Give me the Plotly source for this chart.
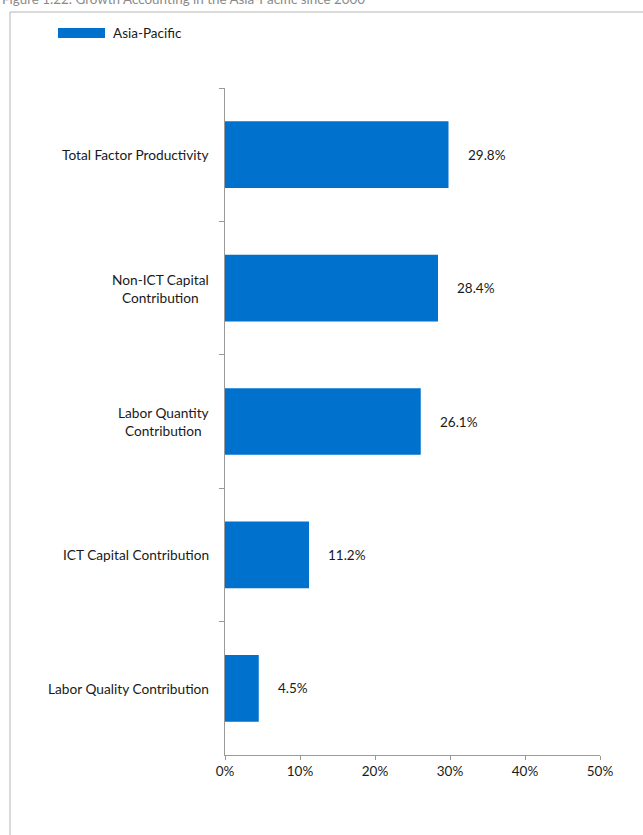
import plotly.graph_objects as go

# Growth accounting shares, Asia-Pacific
categories = [
    "Total Factor Productivity",
    "Non-ICT Capital<br>Contribution",
    "Labor Quantity<br>Contribution",
    "ICT Capital Contribution",
    "Labor Quality Contribution",
]
values = [29.8, 28.4, 26.1, 11.2, 4.5]
x_ticks = [0, 10, 20, 30, 40, 50]
series_name = "Asia-Pacific"
title_text = "Figure 1.22: Growth Accounting in the Asia-Pacific since 2000"

BLUE = "#0072CE"
AXIS = "#9a9a9a"
FONT = "Lato"
TXT = "#1a1a1a"

W, H = 643, 835
L, R, T, B = 225, 43, 88, 80
pw, ph = W - L - R, H - T - B


def px_x(p):
    return (p - L) / pw


def px_y(p):
    return (H - B - p) / ph


fig = go.Figure()
fig.add_trace(go.Bar(
    x=values, y=categories, orientation="h",
    marker=dict(color=BLUE, line=dict(width=0)),
    name=series_name, showlegend=False,
))

annotations = []
# category labels (centered multi-line)
for c in categories:
    annotations.append(dict(
        x=px_x(211), xref="paper", y=c, yref="y",
        text=c, showarrow=False, xanchor="right", yanchor="middle",
        align="center", font=dict(family=FONT, size=13.7, color=TXT),
    ))
# value labels
for c, v in zip(categories, values):
    annotations.append(dict(
        x=v, xref="x", y=c, yref="y", text=f"{v:.1f}%",
        showarrow=False, xanchor="left", yanchor="middle", xshift=17,
        font=dict(family=FONT, size=13.5, color=TXT),
    ))
# legend text
annotations.append(dict(
    x=px_x(111), xref="paper", y=px_y(33), yref="paper", text=series_name,
    showarrow=False, xanchor="left", yanchor="middle",
    font=dict(family=FONT, size=13.5, color=TXT),
))
# figure caption
annotations.append(dict(
    x=px_x(0), xref="paper", y=px_y(-1), yref="paper", text=title_text,
    showarrow=False, xanchor="left", yanchor="middle",
    font=dict(family=FONT, size=13.4, color="#8a8a8a"),
))

shapes = [
    # legend swatch
    dict(type="rect", xref="paper", yref="paper",
         x0=px_x(58), x1=px_x(105), y0=px_y(38), y1=px_y(28),
         fillcolor=BLUE, line=dict(width=0)),
    # frame
    dict(type="line", xref="paper", yref="paper",
         x0=px_x(10), x1=px_x(10), y0=px_y(12), y1=px_y(900),
         line=dict(color="#b5b5b5", width=1)),
    dict(type="line", xref="paper", yref="paper",
         x0=px_x(10), x1=px_x(700), y0=px_y(12), y1=px_y(12),
         line=dict(color="#b5b5b5", width=1)),
]

fig.update_layout(
    width=W, height=H,
    margin=dict(l=L, r=R, t=T, b=B, pad=0),
    paper_bgcolor="white", plot_bgcolor="white",
    bargap=0.5,
    font=dict(family=FONT, size=13, color=TXT),
    annotations=annotations, shapes=shapes,
    showlegend=False,
)
fig.update_xaxes(
    range=[0, 50], tickvals=x_ticks, ticktext=[f"{t}%" for t in x_ticks],
    showgrid=False, zeroline=False, showline=True, linecolor=AXIS, linewidth=1,
    ticks="outside", ticklen=4, tickcolor=AXIS,
    tickfont=dict(family=FONT, size=13.5, color=TXT),
)
fig.update_yaxes(
    categoryorder="array", categoryarray=categories, autorange="reversed",
    showgrid=False, zeroline=False, showline=True, linecolor=AXIS, linewidth=1,
    ticks="outside", ticklen=5, tickcolor=AXIS, tickson="boundaries",
    showticklabels=False,
)

fig.write_html("out.html")
